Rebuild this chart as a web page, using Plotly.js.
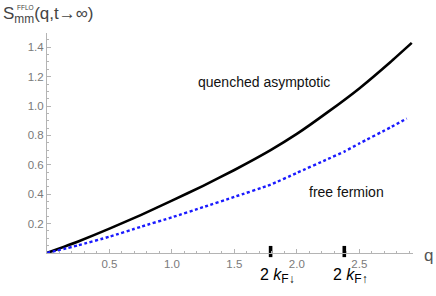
<!DOCTYPE html>
<html>
<head>
<meta charset="utf-8">
<script src="https://cdn.plot.ly/plotly-3.0.1.min.js"></script>
<style>html,body{margin:0;padding:0;background:#fff;}#chart{width:436px;height:296px;}</style>
</head>
<body>
<div id="chart"></div>
<script>
// Data
var qQuenched = [0, 0.25, 0.5, 0.75, 1.0, 1.25, 1.5, 1.79, 2.0, 2.25, 2.5, 2.75, 2.92];
var sQuenched = [0, 0.078, 0.166, 0.258, 0.356, 0.457, 0.565, 0.700, 0.810, 0.960, 1.120, 1.300, 1.430];
var qFree = [0, 0.25, 0.5, 0.75, 1.0, 1.25, 1.5, 1.79, 2.0, 2.25, 2.38, 2.5, 2.75, 2.88];
var sFree = [0, 0.052, 0.111, 0.178, 0.243, 0.312, 0.382, 0.465, 0.545, 0.640, 0.690, 0.745, 0.855, 0.915];
var kfPos = [1.79, 2.38];
var kfLabels = ['2 <i>k</i><sub><span style="font-size:12px">F↓</span></sub>', '2 <i>k</i><sub><span style="font-size:12px">F↑</span></sub>'];
var xTickVals = [0.5, 1.0, 1.5, 2.0, 2.5];
var xTickText = ['0.5', '1.0', '1.5', '2.0', '2.5'];
var yTickVals = [0.2, 0.4, 0.6, 0.8, 1.0, 1.2, 1.4];
var yTickText = ['0.2', '0.4', '0.6', '0.8', '1.0', '1.2', '1.4'];
var curveLabels = ['quenched asymptotic', 'free fermion'];

var FONT = 'Liberation Sans, Arial, sans-serif';
var AX = '#b4b4b4';
var TK = '#7a7a7a';

var traces = [
  {x: qQuenched, y: sQuenched, mode: 'lines', line: {color: '#000', width: 2.6, shape: 'spline', smoothing: 0.4}, hoverinfo: 'skip', cliponaxis: false},
  {x: qFree, y: sFree, mode: 'lines', line: {color: '#1a1aff', width: 2.4, dash: '3px,2.5px', shape: 'spline', smoothing: 0.4}, hoverinfo: 'skip', cliponaxis: false},
  {x: kfPos, y: kfPos.map(function(){return 0.01;}), mode: 'markers', marker: {symbol: 'line-ns', size: 8, color: '#000', line: {color: '#000', width: 3.6}}, hoverinfo: 'skip', cliponaxis: false}
];

function px2x(px){ return (px - 47) / 366; }
function py2y(py){ return (253 - py) / 220; }

var annotations = [
  {text: 'S<sub>mm</sub>(q,t→∞)', xref: 'paper', yref: 'paper', x: px2x(1), y: py2y(15), xanchor: 'left', yanchor: 'middle', showarrow: false, font: {family: FONT, size: 17, color: '#444'}},
  {text: 'FFLO', xref: 'paper', yref: 'paper', x: px2x(15), y: py2y(7.5), xanchor: 'left', yanchor: 'middle', showarrow: false, font: {family: FONT, size: 6.5, color: '#444'}},
  {text: 'q', xref: 'paper', yref: 'paper', x: px2x(428), y: py2y(255), xanchor: 'center', yanchor: 'middle', showarrow: false, font: {family: FONT, size: 17, color: '#555'}},
  {text: curveLabels[0], xref: 'x', yref: 'y', x: 1.74, y: 1.163, xanchor: 'center', yanchor: 'middle', showarrow: false, font: {family: FONT, size: 14, color: '#111'}},
  {text: curveLabels[1], xref: 'x', yref: 'y', x: 2.40, y: 0.417, xanchor: 'center', yanchor: 'middle', showarrow: false, font: {family: FONT, size: 14, color: '#111'}}
];
kfPos.forEach(function(k, i){
  annotations.push({text: kfLabels[i], xref: 'x', yref: 'paper', x: k, y: py2y(264), xanchor: 'left', yanchor: 'top', xshift: -13, showarrow: false, font: {family: FONT, size: 16, color: '#000'}});
});

var layout = {
  width: 436, height: 296,
  margin: {l: 47, r: 23, t: 33, b: 43, pad: 0},
  paper_bgcolor: '#fff', plot_bgcolor: '#fff',
  showlegend: false,
  font: {family: FONT},
  xaxis: {
    range: [0, 2.93], showgrid: false, zeroline: false,
    showline: true, linecolor: AX, linewidth: 1,
    ticks: 'inside', ticklen: 4, tickcolor: AX, tickwidth: 1,
    tickmode: 'array', tickvals: xTickVals, ticktext: xTickText,
    tickfont: {family: FONT, size: 11.5, color: TK},
    minor: {ticks: 'inside', ticklen: 2, tickcolor: AX, tickmode: 'linear', tick0: 0, dtick: 0.1, showgrid: false}
  },
  yaxis: {
    range: [0, 1.497], showgrid: false, zeroline: false,
    showline: true, linecolor: AX, linewidth: 1,
    ticks: 'inside', ticklen: 4, tickcolor: AX, tickwidth: 1,
    tickmode: 'array', tickvals: yTickVals, ticktext: yTickText,
    tickfont: {family: FONT, size: 11.5, color: TK},
    minor: {ticks: 'inside', ticklen: 2, tickcolor: AX, tickmode: 'linear', tick0: 0, dtick: 0.05, showgrid: false}
  },
  annotations: annotations
};

Plotly.newPlot('chart', traces, layout, {staticPlot: true, displayModeBar: false});
</script>
</body>
</html>
